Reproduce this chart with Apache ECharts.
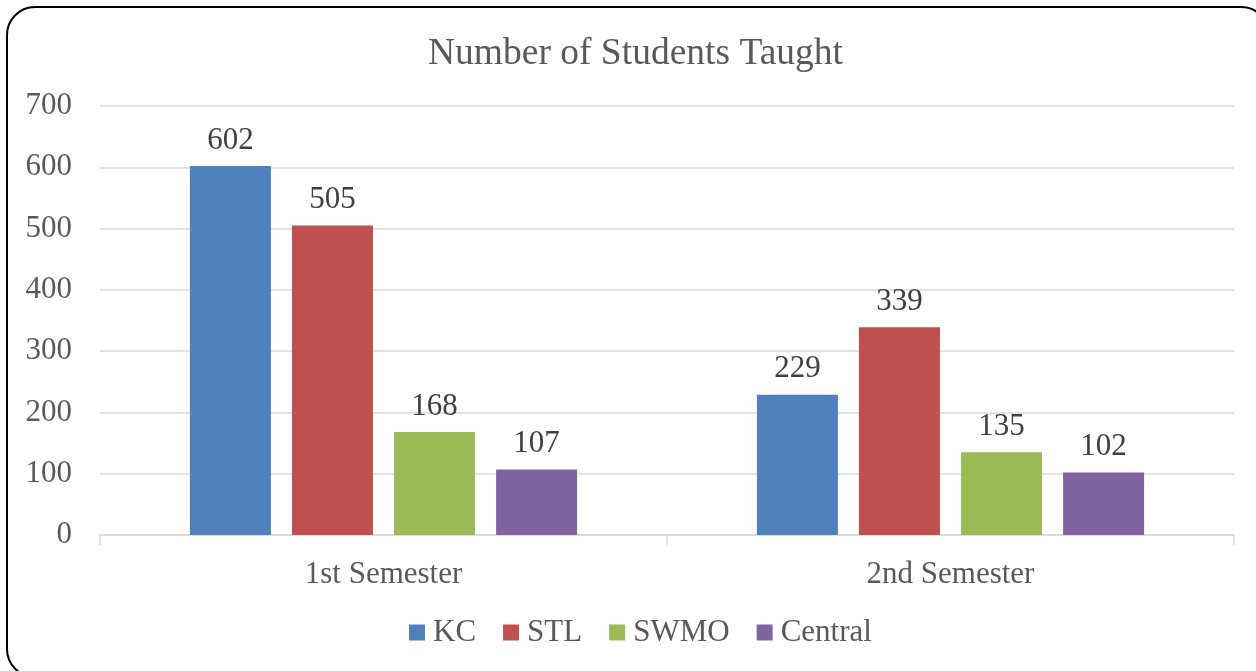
<!DOCTYPE html>
<html>
<head>
<meta charset="utf-8">
<script src="https://cdn.jsdelivr.net/npm/echarts@6/dist/echarts.min.js"></script>
<style>
  html, body { margin: 0; padding: 0; background: #fff; }
  #chart { width: 1256px; height: 671px; }
</style>
</head>
<body>
<div id="chart"></div>
<script>
var semesters = ['1st Semester', '2nd Semester'];
var kc = [602, 229];
var stl = [505, 339];
var swmo = [168, 135];
var central = [107, 102];
var yTicks = [0, 100, 200, 300, 400, 500, 600, 700];

var font = 'Liberation Serif';
var gray = '#595959';

var chart = echarts.init(document.getElementById('chart'));

function bar(name, data, color) {
	return {
		name: name,
		type: 'bar',
		data: data,
		barWidth: 81,
		barGap: '26%',
		itemStyle: { color: color },
		label: {
			show: true,
			position: 'top',
			distance: 10,
			color: '#404040',
			fontFamily: font,
			fontSize: 31
		}
	};
}

var option = {
	animation: false,
	backgroundColor: '#fff',
	title: {
		text: 'Number of Students Taught',
		left: 423,
		top: 30,
		textStyle: { fontFamily: font, fontSize: 37.5, fontWeight: 'normal', color: gray }
	},
	legend: {
		bottom: 18,
		left: 404,
		itemWidth: 16,
		itemHeight: 16,
		itemGap: 27,
		icon: 'rect',
		textStyle: { fontFamily: font, fontSize: 31, color: gray, padding: [0, 0, 0, 3] },
		data: ['KC', 'STL', 'SWMO', 'Central']
	},
	grid: { left: 100, right: 22, top: 106, bottom: 136, containLabel: false },
	xAxis: {
		type: 'category',
		data: semesters,
		axisLine: { lineStyle: { color: '#d9d9d9', width: 1.5 } },
		axisTick: { show: true, length: 10, lineStyle: { color: '#d9d9d9', width: 1.5 } },
		axisLabel: { fontFamily: font, fontSize: 31, color: gray, margin: 24 }
	},
	yAxis: {
		type: 'value',
		min: yTicks[0],
		max: yTicks[yTicks.length - 1],
		interval: 100,
		axisLine: { show: false },
		axisTick: { show: false },
		axisLabel: { fontFamily: font, fontSize: 31, color: gray, margin: 28 },
		splitLine: { lineStyle: { color: '#d9d9d9', width: 1.5 } }
	},
	graphic: [{
		type: 'rect',
		shape: { x: 7, y: 7, width: 1262, height: 670, r: 28 },
		style: { fill: 'none', stroke: '#000', lineWidth: 2 },
		silent: true,
		z: 100
	}],
	series: [
		bar('KC', kc, '#4f81bd'),
		bar('STL', stl, '#c0504d'),
		bar('SWMO', swmo, '#9bbb59'),
		bar('Central', central, '#8064a2')
	]
};

chart.setOption(option);
</script>
</body>
</html>
